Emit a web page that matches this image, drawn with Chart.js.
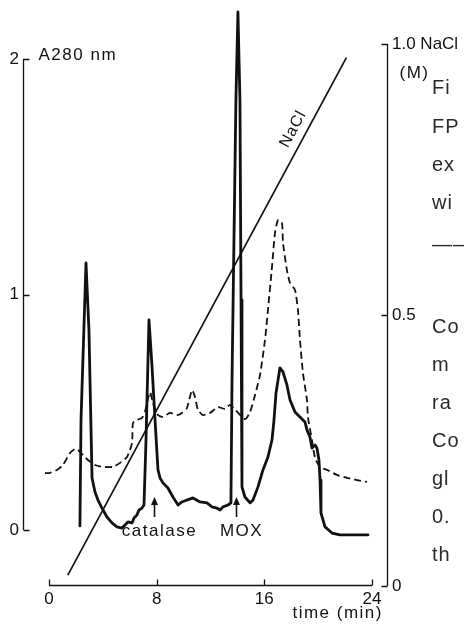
<!DOCTYPE html>
<html>
<head>
<meta charset="utf-8">
<title>A280 and NaCl elution profile</title>
<script src="https://cdn.jsdelivr.net/npm/chart.js@4.4.0/dist/chart.umd.min.js"></script>
<style>
  html, body { margin: 0; padding: 0; background: #fff; }
  #wrap { width: 464px; height: 624px; overflow: hidden; }
</style>
</head>
<body>
<div id="wrap"><canvas id="elution" width="464" height="624"></canvas></div>
<script>
// Elution profile: absorbance at 280 nm (two runs) plus the NaCl gradient

const timeTicks = [0, 8, 16, 24];
const a280Ticks = [0, 1, 2];
const naclTicks = [0, 0.5, 1];

// solid run
const solidTime = [2.30, 2.38, 2.75, 2.97, 3.20, 3.42, 3.64, 3.94, 4.31, 4.68, 5.05, 5.42, 5.65, 5.87, 6.17, 6.32,
  6.54, 6.69, 6.91, 7.06, 7.21, 7.43, 7.65, 7.88, 8.10, 8.25, 8.47, 8.84, 9.21, 9.59, 9.88, 10.25, 10.70, 11.22,
  11.74, 12.11, 12.48, 12.71, 12.93, 13.30, 13.52, 13.60, 13.89, 14.04, 14.19, 14.27, 14.34, 14.56, 14.94, 15.16,
  15.53, 15.90, 16.27, 16.57, 16.72, 16.87, 17.02, 17.16, 17.39, 17.68, 17.91, 18.28, 18.65, 19.02, 19.17, 19.39,
  19.54, 19.77, 19.91, 20.06, 20.14, 20.21, 20.51, 21.03, 21.62, 23.70];
const solidA280 = [0.017, 0.467, 1.134, 0.849, 0.221, 0.161, 0.127, 0.093, 0.055, 0.030, 0.013, 0.008, 0.021, 0.034,
  0.030, 0.051, 0.064, 0.085, 0.093, 0.106, 0.382, 0.892, 0.701, 0.467, 0.255, 0.221, 0.200, 0.178, 0.140, 0.106,
  0.119, 0.127, 0.136, 0.119, 0.115, 0.098, 0.093, 0.085, 0.098, 0.106, 0.115, 0.637, 1.826, 2.200, 1.826, 0.977,
  0.183, 0.140, 0.115, 0.127, 0.183, 0.255, 0.310, 0.382, 0.467, 0.582, 0.637, 0.688, 0.671, 0.616, 0.552, 0.501,
  0.480, 0.459, 0.425, 0.395, 0.348, 0.361, 0.348, 0.297, 0.212, 0.072, 0.013, -0.013, -0.021, -0.021];

// dashed run
const dashedTime = [-0.30, 0.07, 0.59, 1.04, 1.56, 1.93, 2.15, 2.53, 2.90, 3.42, 4.01, 4.76, 5.28, 5.80, 6.17, 6.24,
  6.54, 6.91, 7.13, 7.50, 7.73, 8.10, 8.47, 8.99, 9.51, 9.88, 10.25, 10.63, 10.85, 11.07, 11.44, 11.96, 12.56, 13.08,
  13.45, 14.56, 14.94, 15.31, 15.68, 16.05, 16.27, 16.57, 16.79, 17.02, 17.31, 17.39, 17.68, 17.91, 18.28, 18.50,
  18.65, 18.87, 19.17, 19.24, 19.54, 19.77, 20.14, 20.66, 21.40, 22.14, 22.89, 23.63];
const dashedA280 = [0.242, 0.242, 0.255, 0.276, 0.327, 0.344, 0.340, 0.318, 0.297, 0.276, 0.268, 0.268, 0.285, 0.310,
  0.369, 0.454, 0.467, 0.476, 0.501, 0.586, 0.539, 0.488, 0.480, 0.497, 0.488, 0.497, 0.518, 0.594, 0.565, 0.510,
  0.488, 0.497, 0.522, 0.514, 0.531, 0.471, 0.501, 0.573, 0.658, 0.807, 0.934, 1.117, 1.261, 1.316, 1.304, 1.219,
  1.104, 1.049, 1.019, 0.934, 0.807, 0.667, 0.552, 0.480, 0.382, 0.306, 0.268, 0.255, 0.234, 0.221, 0.212, 0.204];

// linear salt gradient (start, end)
const gradientTime = [1.4, 22.1];
const gradientNaCl = [0.02, 0.975];

// arrows under the two enzyme peaks
const markerNames = ['catalase', 'MOX'];
const markerTime = [7.8, 13.9];

// neighbouring text column, cut off by the page edge
const sideText = ['Fi', 'FP', 'ex', 'wi', '——', 'Co', 'm', 'ra', 'Co', 'gl', '0.', 'th'];

const toPoints = (xs, ys) => xs.map((t, i) => ({ x: t, y: ys[i] }));
const setTicks = list => scale => { scale.ticks = list.map(v => ({ value: v })); };

const INK = '#111';
const tickFont = { family: 'Liberation Sans', size: 17 };
const noGrid = { display: false, drawTicks: false, tickLength: 0 };

// axes are drawn by hand: detached frame with inward ticks
const framePlugin = {
  id: 'framePlugin',
  afterDraw(chart) {
    const { ctx, chartArea, scales } = chart;
    const { x, y, y2 } = scales;
    const L = Math.round(chartArea.left) + 0.5;
    const R = Math.round(chartArea.right) - 0.5;
    const B = Math.round(chartArea.bottom) - 0.5;

    ctx.save();
    ctx.strokeStyle = INK;
    ctx.lineWidth = 1.3;
    ctx.beginPath();
    ctx.moveTo(L, y.getPixelForValue(a280Ticks[0]));
    ctx.lineTo(L, y.getPixelForValue(a280Ticks[a280Ticks.length - 1]));
    a280Ticks.forEach(v => {
      const py = Math.round(y.getPixelForValue(v)) + 0.5;
      ctx.moveTo(L, py); ctx.lineTo(L + 6, py);
    });
    ctx.moveTo(R, y2.getPixelForValue(naclTicks[0]));
    ctx.lineTo(R, y2.getPixelForValue(naclTicks[naclTicks.length - 1]));
    naclTicks.forEach(v => {
      const py = Math.round(y2.getPixelForValue(v)) + 0.5;
      ctx.moveTo(R, py); ctx.lineTo(R - 6, py);
    });
    ctx.moveTo(x.getPixelForValue(timeTicks[0]), B);
    ctx.lineTo(x.getPixelForValue(timeTicks[timeTicks.length - 1]), B);
    timeTicks.forEach(v => {
      const px = Math.round(x.getPixelForValue(v)) + 0.5;
      ctx.moveTo(px, B); ctx.lineTo(px, B - 6);
    });
    ctx.stroke();

    ctx.fillStyle = INK;
    ctx.font = '17px "Liberation Sans"';
    ctx.letterSpacing = '1.5px';
    ctx.textBaseline = 'middle';

    // axis captions
    ctx.textAlign = 'left';
    ctx.fillText('A280 nm', L + 15, y.getPixelForValue(2) - 4);
    ctx.fillText('(M)', R + 12, y2.getPixelForValue(1) + 29);
    ctx.textAlign = 'right';
    ctx.fillText('time (min)', x.getPixelForValue(24) + 11, 613);

    // arrows and peak names
    markerNames.forEach((name, i) => {
      const ax = Math.round(x.getPixelForValue(markerTime[i])) + 0.5;
      const tip = y.getPixelForValue(0.14);
      const base = y.getPixelForValue(0.055);
      ctx.beginPath();
      ctx.lineWidth = 1.6;
      ctx.moveTo(ax, base); ctx.lineTo(ax, tip + 5);
      ctx.stroke();
      ctx.beginPath();
      ctx.moveTo(ax, tip); ctx.lineTo(ax - 3.5, tip + 8); ctx.lineTo(ax + 3.5, tip + 8);
      ctx.closePath();
      ctx.fill();
      ctx.textAlign = 'center';
      ctx.fillText(name, ax + 5, y.getPixelForValue(-0.004));
    });

    // gradient label running along the line
    const p0 = { x: x.getPixelForValue(gradientTime[0]), y: y2.getPixelForValue(gradientNaCl[0]) };
    const p1 = { x: x.getPixelForValue(gradientTime[1]), y: y2.getPixelForValue(gradientNaCl[1]) };
    const ang = Math.atan2(p1.y - p0.y, p1.x - p0.x);
    const t = 0.85;
    const cx = p0.x + (p1.x - p0.x) * t + Math.sin(ang) * 13;
    const cy = p0.y + (p1.y - p0.y) * t - Math.cos(ang) * 13;
    ctx.save();
    ctx.translate(cx, cy);
    ctx.rotate(ang);
    ctx.font = '16px "Liberation Sans"';
    ctx.letterSpacing = '1px';
    ctx.textAlign = 'center';
    ctx.fillText('NaCl', 0, 0);
    ctx.restore();

    // text column at the right edge
    const rows = [88, 127, 165, 203, 245, 327, 365, 403, 441, 479, 517, 555];
    ctx.fillStyle = '#2a2a2a';
    ctx.font = '20px "Liberation Sans"';
    ctx.letterSpacing = '1px';
    ctx.textAlign = 'left';
    sideText.forEach((s, i) => ctx.fillText(s, 432, rows[i]));
    ctx.restore();
  }
};

new Chart(document.getElementById('elution'), {
  type: 'line',
  data: {
    datasets: [
      {
        label: 'NaCl',
        data: toPoints(gradientTime, gradientNaCl),
        yAxisID: 'y2',
        borderColor: INK,
        borderWidth: 1.7,
        pointRadius: 0,
        clip: false
      },
      {
        label: 'A280 dashed',
        data: toPoints(dashedTime, dashedA280),
        yAxisID: 'y',
        borderColor: INK,
        borderWidth: 1.8,
        borderDash: [7, 4],
        tension: 0.2,
        pointRadius: 0,
        clip: false
      },
      {
        label: 'A280',
        data: toPoints(solidTime, solidA280),
        yAxisID: 'y',
        borderColor: INK,
        borderWidth: 2.8,
        borderJoinStyle: 'round',
        borderCapStyle: 'round',
        pointRadius: 0,
        clip: false
      }
    ]
  },
  options: {
    responsive: false,
    animation: false,
    devicePixelRatio: 1,
    layout: { padding: { top: 44, left: 0, right: 0, bottom: 0 } },
    plugins: { legend: { display: false }, tooltip: { enabled: false } },
    scales: {
      x: {
        type: 'linear',
        min: -1.93,
        max: 25.19,
        afterBuildTicks: setTicks(timeTicks),
        afterFit: s => { s.height = 38; },
        grid: noGrid,
        border: { display: false },
        ticks: { font: tickFont, color: INK, padding: 3, maxRotation: 0, autoSkip: false }
      },
      y: {
        type: 'linear',
        position: 'left',
        min: -0.238,
        max: 2.064,
        afterBuildTicks: setTicks(a280Ticks),
        afterFit: s => { s.width = 23; },
        grid: noGrid,
        border: { display: false },
        ticks: { font: tickFont, color: INK, padding: 4 }
      },
      y2: {
        type: 'linear',
        position: 'right',
        min: 0,
        max: 1,
        afterBuildTicks: setTicks(naclTicks),
        afterFit: s => { s.width = 76; },
        grid: noGrid,
        border: { display: false },
        ticks: {
          font: tickFont,
          color: INK,
          padding: 4,
          callback: v => (v === 1 ? '1.0 NaCl' : String(v))
        }
      }
    }
  },
  plugins: [framePlugin]
});
</script>
</body>
</html>
